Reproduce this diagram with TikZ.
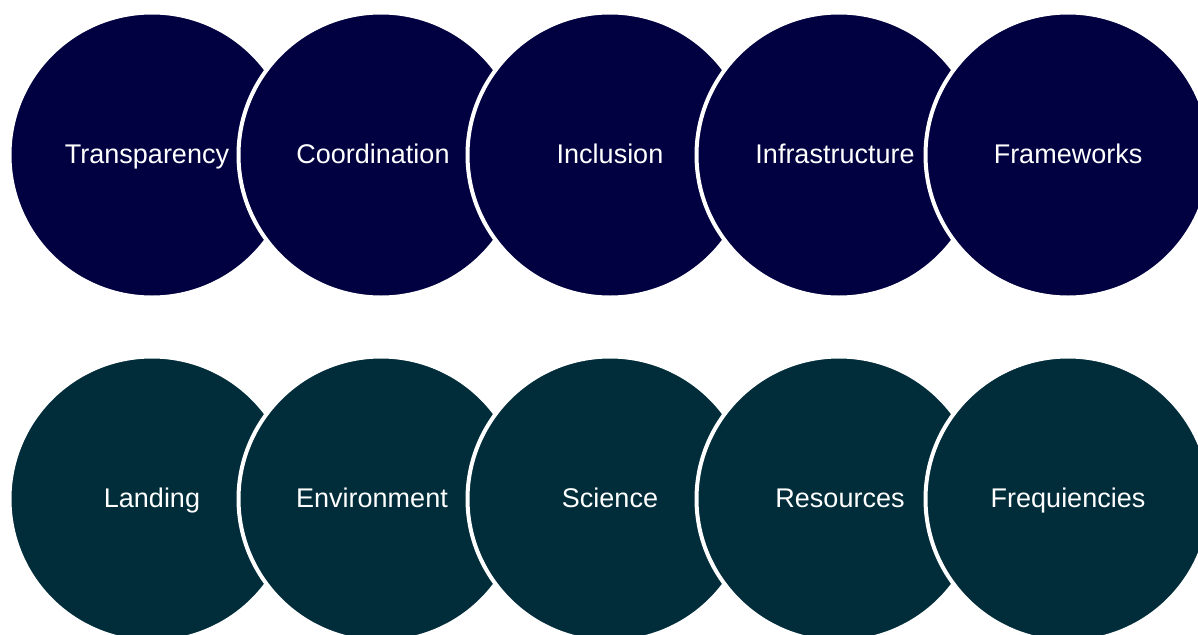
\documentclass[tikz,border=0pt]{standalone}
\usepackage{fontspec}
\setmainfont{Liberation Sans}
\definecolor{NightNavy}{RGB}{1,0,64}
\definecolor{DeepTeal}{RGB}{1,44,58}
\colorlet{ColourTop}{NightNavy}
\colorlet{ColourBottom}{DeepTeal}

\tikzset{
  disc/.style={circle,draw=white,line width=4pt,minimum size=285pt,inner sep=0pt},
  disclabel/.style={anchor=base,white,inner sep=0pt,font=\fontsize{27}{31}\selectfont},
}

\begin{document}
\begin{tikzpicture}[x=1pt,y=-1pt]

  \useasboundingbox (0,0) rectangle (1198,634);
  \fill[white] (0,0) rectangle (1198,634);
  \clip (0,0) rectangle (1198,634);

  % top row
  \foreach \i/\txt/\dx in {1/Transparency/-5,2/Coordination/-8,3/Inclusion/0,4/Infrastructure/-4,5/Frameworks/0}{
    \node[disc,fill=ColourTop] (top\i) at ({152+229*(\i-1)},155) {};
    \node[disclabel] (top\i-label) at ([xshift=\dx pt,yshift=-8pt]top\i.center) {\txt};
  }

  % bottom row
  \foreach \i/\txt/\dx in {1/Landing/0,2/Environment/-9,3/Science/0,4/Resources/1,5/Frequiencies/0}{
    \node[disc,fill=ColourBottom] (bot\i) at ({152+229*(\i-1)},499) {};
    \node[disclabel] (bot\i-label) at ([xshift=\dx pt,yshift=-8pt]bot\i.center) {\txt};
  }

\end{tikzpicture}
\end{document}
